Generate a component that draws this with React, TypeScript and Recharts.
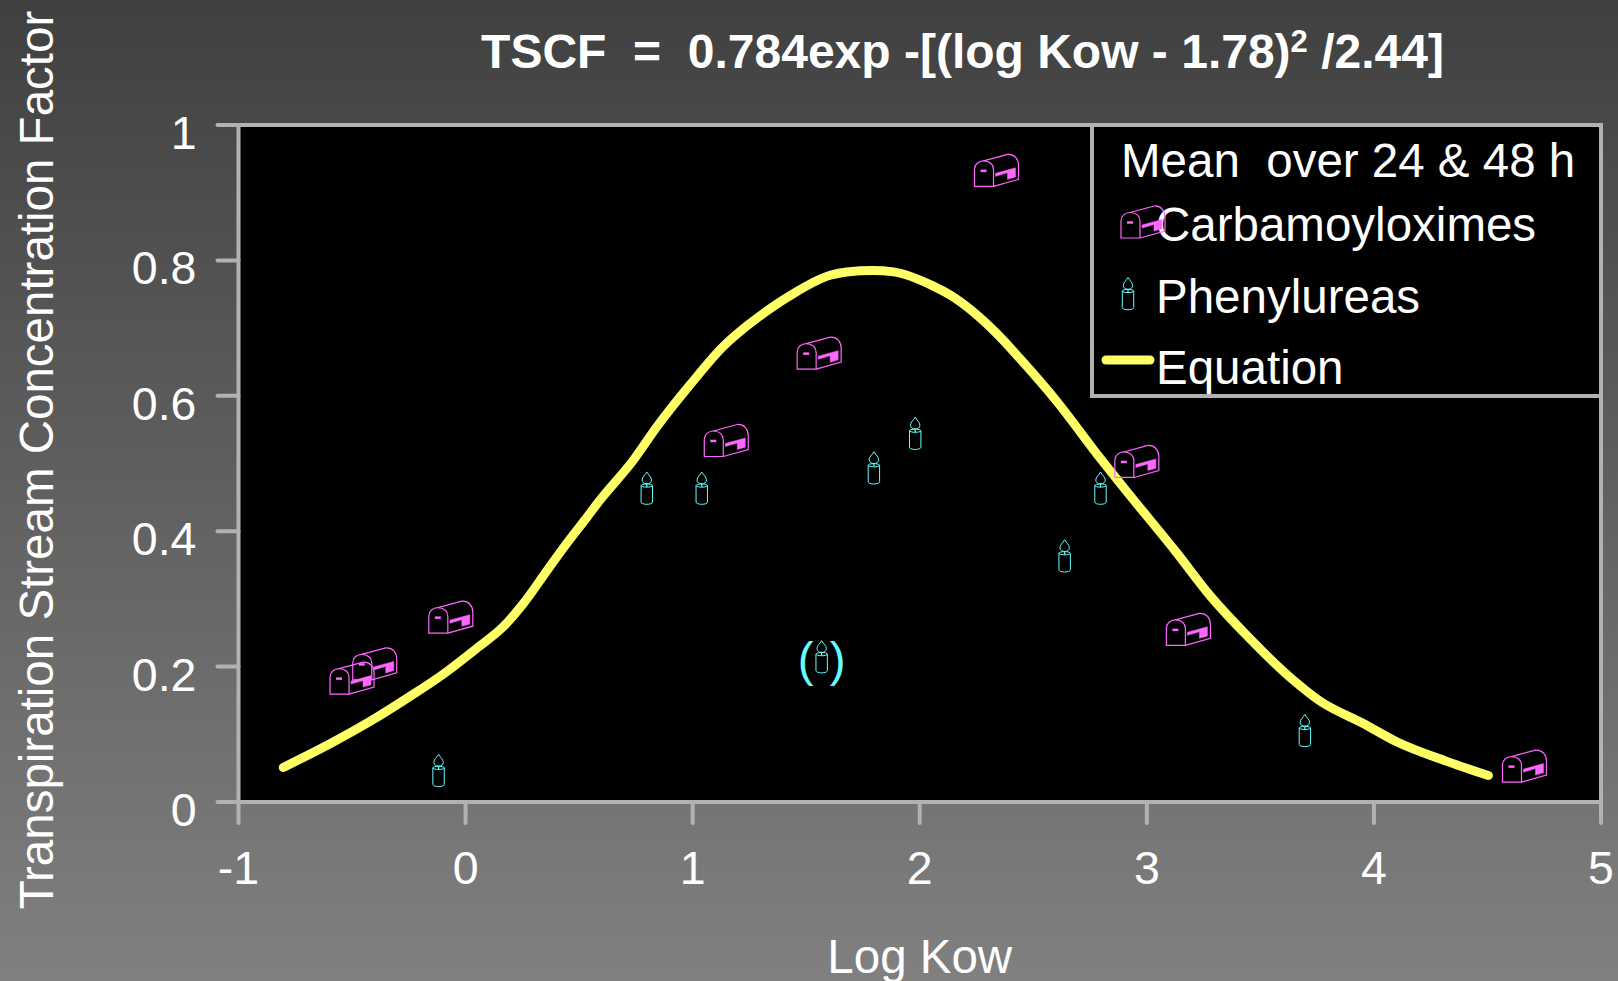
import { ComposedChart, Line, Scatter, XAxis, YAxis, CartesianGrid, ReferenceLine, Legend, Label } from "recharts";

const X_TICKS = [-1, 0, 1, 2, 3, 4, 5];
const Y_TICKS = [0, 0.2, 0.4, 0.6, 0.8, 1];

const carbamoyloximes = [
  { x: -0.5, y: 0.183 },
  { x: -0.4, y: 0.204 },
  { x: -0.065, y: 0.273 },
  { x: 1.148, y: 0.534 },
  { x: 1.557, y: 0.663 },
  { x: 2.338, y: 0.933 },
  { x: 2.956, y: 0.503 },
  { x: 3.183, y: 0.255 },
  { x: 4.663, y: 0.053 },
];

const phenylureas = [
  { x: -0.119, y: 0.046 },
  { x: 0.798, y: 0.463 },
  { x: 1.04, y: 0.463 },
  { x: 1.798, y: 0.493 },
  { x: 1.98, y: 0.544 },
  { x: 2.638, y: 0.363 },
  { x: 2.796, y: 0.463 },
  { x: 3.696, y: 0.105 },
];

// the one point shown in brackets
const phenylureasBracketed = [{ x: 1.568, y: 0.214 }];

const equation = [
  { x: -0.803, y: 0.051 },
  { x: -0.597, y: 0.086 },
  { x: -0.421, y: 0.119 },
  { x: -0.245, y: 0.156 },
  { x: -0.098, y: 0.189 },
  { x: 0.049, y: 0.227 },
  { x: 0.166, y: 0.259 },
  { x: 0.254, y: 0.293 },
  { x: 0.357, y: 0.341 },
  { x: 0.43, y: 0.375 },
  { x: 0.533, y: 0.42 },
  { x: 0.592, y: 0.446 },
  { x: 0.739, y: 0.505 },
  { x: 0.842, y: 0.554 },
  { x: 0.988, y: 0.616 },
  { x: 1.135, y: 0.673 },
  { x: 1.238, y: 0.703 },
  { x: 1.355, y: 0.732 },
  { x: 1.429, y: 0.748 },
  { x: 1.605, y: 0.778 },
  { x: 1.678, y: 0.783 },
  { x: 1.795, y: 0.785 },
  { x: 1.884, y: 0.783 },
  { x: 2.06, y: 0.762 },
  { x: 2.133, y: 0.749 },
  { x: 2.339, y: 0.692 },
  { x: 2.441, y: 0.655 },
  { x: 2.603, y: 0.592 },
  { x: 2.794, y: 0.508 },
  { x: 2.918, y: 0.456 },
  { x: 3.132, y: 0.368 },
  { x: 3.278, y: 0.305 },
  { x: 3.44, y: 0.246 },
  { x: 3.645, y: 0.18 },
  { x: 3.763, y: 0.149 },
  { x: 3.953, y: 0.116 },
  { x: 4.1, y: 0.089 },
  { x: 4.321, y: 0.06 },
  { x: 4.504, y: 0.039 },
];

const FONT = "'Liberation Sans', Arial, sans-serif";
const FONT_SIZE = 47.5;
const GREY = "#b2b2b2";
const PINK = "#ff66ff";
const CYAN = "#66ffff";
const YELLOW = "#ffff66";

function Mailbox({ cx, cy }: any) {
  return (
    <g transform={`translate(${cx},${cy})`} fill="none" stroke={PINK} strokeWidth={1.2}>
      <path d="M-22,16 V-1 C-22,-6 -18,-9.5 -13,-9.5 C-7,-9.5 -3,-6 -3,-1 V16 Z" />
      <path d="M-13,-9.5 L11,-16 C18,-16.5 22,-11 22,-5 V9 L-3,16" />
      <path d="M-1,3 L19,-2.5 V6.7 L11,9 V2.5 L-1,6 Z" fill={PINK} strokeWidth={0.5} />
      <path d="M-16,0.5 H-10" strokeWidth={2.5} />
    </g>
  );
}

function Candle({ cx, cy }: any) {
  return (
    <g transform={`translate(${cx},${cy})`} fill="none" stroke={CYAN} strokeWidth={1}>
      <path d="M-5.7,-3 V13.5 C-5.7,16.5 5.7,16.5 5.7,13.5 V-3" />
      <ellipse cx={0} cy={-3} rx={5.7} ry={1.6} />
      <path d="M0,-16.5 C-2,-13 -4.7,-11.5 -4.7,-8.5 C-4.7,-6 -2.5,-4.7 0,-4.7 C2.5,-4.7 4.7,-6 4.7,-8.5 C4.7,-11.5 2,-13 0,-16.5 Z" />
      <path d="M0,-5 V-1.5" strokeWidth={1.2} />
    </g>
  );
}

function BracketedCandle({ cx, cy }: any) {
  return (
    <g>
      <Candle cx={cx} cy={cy} />
      <g fontFamily={FONT} fontSize={FONT_SIZE} fill={CYAN}>
        <text x={cx - 8} y={cy + 19} textAnchor="end">(</text>
        <text x={cx + 8} y={cy + 19} textAnchor="start">)</text>
      </g>
    </g>
  );
}

function YTick({ x, y, payload }: any) {
  return (
    <text x={x} y={y + 24} textAnchor="end" fontFamily={FONT} fontSize={46.5} fill="#fff">
      {payload.value}
    </text>
  );
}

function XTick({ x, y, payload }: any) {
  return (
    <text x={x} y={y + 61} textAnchor="middle" fontFamily={FONT} fontSize={46.5} fill="#fff">
      {payload.value}
    </text>
  );
}

function LegendBox() {
  return (
    <svg width={513} height={275} style={{ display: "block" }}>
      <rect x={2} y={2} width={509} height={271} fill="#000" stroke={GREY} strokeWidth={4} />
      <g fontFamily={FONT} fontSize={FONT_SIZE} fill="#fff">
        <text x={31} y={54} xmlSpace="preserve">Mean  over 24 &amp; 48 h</text>
        <text x={66} y={118}>Carbamoyloximes</text>
        <text x={66} y={190}>Phenylureas</text>
        <text x={66} y={261}>Equation</text>
      </g>
      <Mailbox cx={53} cy={99} />
      <Candle cx={38} cy={171} />
      <line x1={16} x2={60} y1={237} y2={237} stroke={YELLOW} strokeWidth={9} strokeLinecap="round" />
    </svg>
  );
}

export default function App() {
  return (
    <div
      style={{
        position: "fixed",
        left: 0,
        top: 0,
        width: 1618,
        height: 981,
        overflow: "hidden",
        background: "linear-gradient(180deg, #404040 0%, #808080 100%)",
      }}
    >
      <div
        style={{
          position: "absolute",
          left: 0,
          right: 0,
          top: 22,
          paddingLeft: 307,
          textAlign: "center",
          whiteSpace: "pre",
          color: "#fff",
          fontFamily: FONT,
          fontWeight: 700,
          fontSize: 48,
          lineHeight: "60px",
        }}
      >
        {"TSCF  =  0.784exp -[(log Kow - 1.78)"}
        <sup style={{ fontSize: 31, lineHeight: 0, verticalAlign: 16 }}>2</sup>
        {" /2.44]"}
      </div>
      <ComposedChart
        width={1618}
        height={981}
        margin={{ top: 125, right: 17, bottom: 0, left: 158.5 }}
        style={{ position: "absolute", left: 0, top: 0 }}
      >
        <CartesianGrid horizontal={false} vertical={false} fill="#000" />
        <XAxis
          dataKey="x"
          type="number"
          domain={[-1, 5]}
          ticks={X_TICKS}
          interval={0}
          height={179}
          tickSize={21}
          tickMargin={0}
          tick={<XTick />}
          axisLine={{ stroke: GREY, strokeWidth: 4 }}
          tickLine={{ stroke: GREY, strokeWidth: 4, strokeLinecap: "round" }}
        >
          <Label value="Log Kow" position="insideBottom" offset={8} fontFamily={FONT} fontSize={FONT_SIZE} fill="#fff" />
        </XAxis>
        <YAxis
          type="number"
          domain={[0, 1]}
          ticks={Y_TICKS}
          interval={0}
          width={80}
          tickSize={21}
          tickMargin={21}
          tick={<YTick />}
          axisLine={{ stroke: GREY, strokeWidth: 4 }}
          tickLine={{ stroke: GREY, strokeWidth: 4, strokeLinecap: "round" }}
        />
        <ReferenceLine y={1} stroke={GREY} strokeWidth={4} />
        <ReferenceLine x={5} stroke={GREY} strokeWidth={4} />
        <Line
          data={equation}
          dataKey="y"
          type="monotone"
          stroke={YELLOW}
          strokeWidth={9}
          strokeLinecap="round"
          strokeLinejoin="round"
          dot={false}
          isAnimationActive={false}
        />
        <Scatter data={carbamoyloximes} dataKey="y" shape={<Mailbox />} isAnimationActive={false} />
        <Scatter data={phenylureas} dataKey="y" shape={<Candle />} isAnimationActive={false} />
        <Scatter data={phenylureasBracketed} dataKey="y" shape={<BracketedCandle />} isAnimationActive={false} />
        <Legend
          content={<LegendBox />}
          align="center"
          verticalAlign="middle"
          layout="horizontal"
          wrapperStyle={{ position: "absolute", left: 1090, top: 123, width: 513, height: 275, margin: 0 }}
        />
      </ComposedChart>
      <svg width={80} height={981} style={{ position: "absolute", left: 0, top: 0 }}>
        <text
          transform="translate(53,460) rotate(-90)"
          textAnchor="middle"
          fontFamily={FONT}
          fontSize={FONT_SIZE}
          fill="#fff"
        >
          Transpiration Stream Concentration Factor
        </text>
      </svg>
    </div>
  );
}
